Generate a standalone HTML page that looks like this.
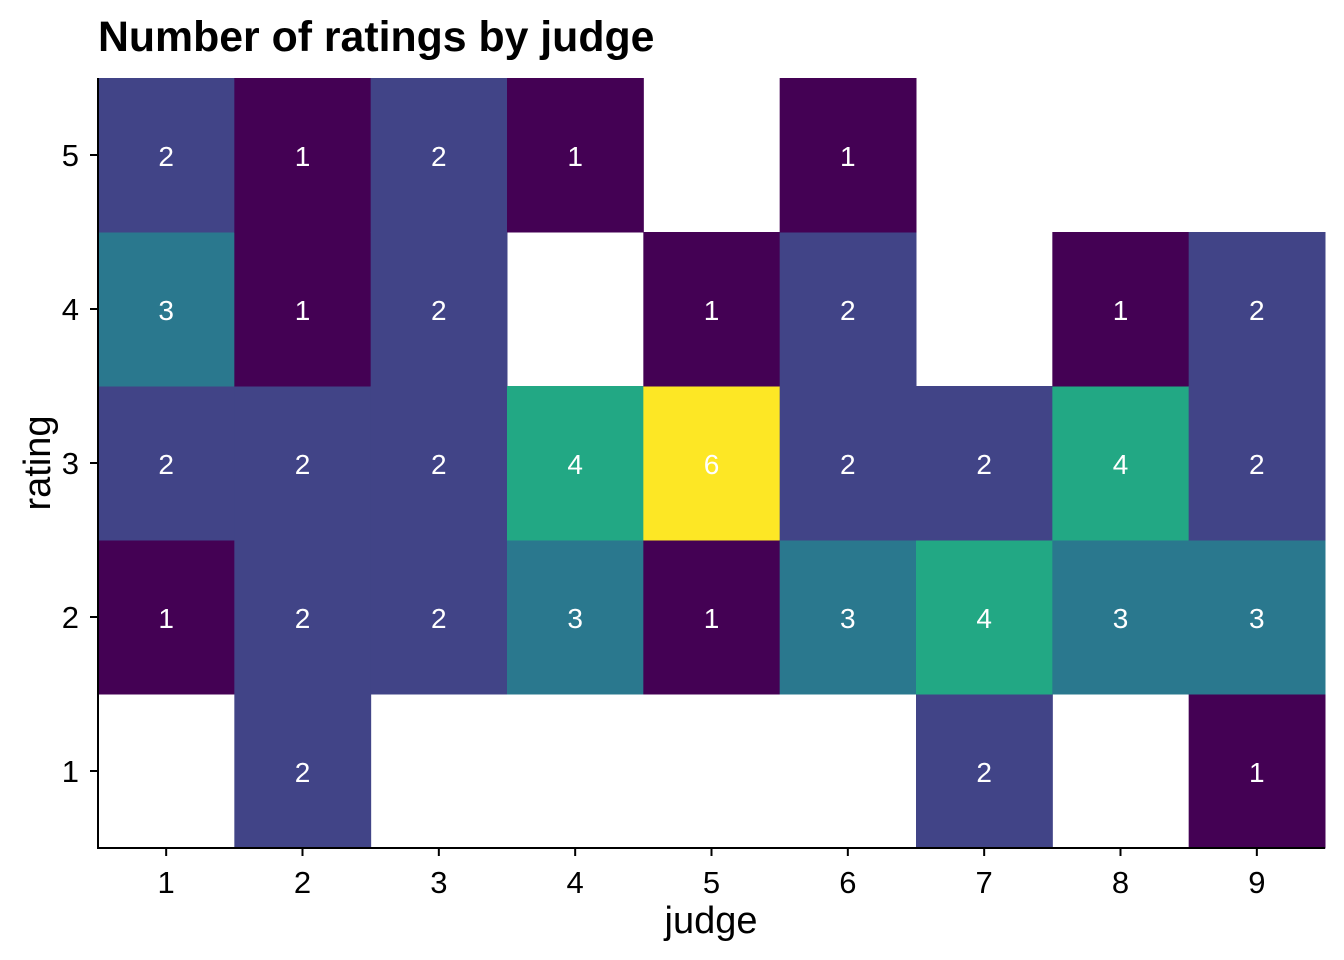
<!DOCTYPE html>
<html><head><meta charset="utf-8"><style>
body{margin:0;background:#fff;}
svg{display:block;font-family:"Liberation Sans",Arial,sans-serif;}
</style></head><body>
<svg id="chart" width="1344" height="960" viewBox="0 0 1344 960">
<text x="98" y="51" font-size="42.8" font-weight="bold" fill="#000">Number of ratings by judge</text>
<g id="cells"></g>
<g id="axes"></g>
<text x="711" y="933" font-size="38" text-anchor="middle" fill="#000">judge</text>
<text transform="translate(50,463) rotate(-90)" font-size="38" text-anchor="middle" fill="#000">rating</text>
</svg>
<script>
const judges=[1,2,3,4,5,6,7,8,9];
const ratings=[1,2,3,4,5];
// counts[judgeIndex] = [r1,r2,r3,r4,r5], null = no cell
const counts=[
 [null,1,2,3,2],
 [2,2,2,1,1],
 [null,2,2,2,2],
 [null,3,4,null,1],
 [null,1,6,1,null],
 [null,3,2,2,1],
 [2,4,2,null,null],
 [null,3,4,1,null],
 [1,3,2,2,null]
];
const viridis={1:"#440154",2:"#414487",3:"#2A788E",4:"#22A884",5:"#7AD151",6:"#FDE725"};
const L=98,R=1325,T=78,B=848;
const cw=(R-L)/judges.length, ch=(B-T)/ratings.length;
const xs=j=>L+(j-0.5)*cw;
const ys=r=>B-(r-0.5)*ch;
const NS="http://www.w3.org/2000/svg";
const cells=document.getElementById('cells'), axes=document.getElementById('axes');
judges.forEach((j,ji)=>{ratings.forEach((r,ri)=>{
 const v=counts[ji][ri]; if(v==null) return;
 const rect=document.createElementNS(NS,'rect');
 
 
 rect.setAttribute('x',xs(j)-cw/2);rect.setAttribute('y',ys(r)-ch/2);
 rect.setAttribute('width',cw+0.5);rect.setAttribute('height',ch+0.5);
 rect.setAttribute('fill',viridis[v]);cells.appendChild(rect);
 const t=document.createElementNS(NS,'text');
 
 
 t.setAttribute('x',xs(j));t.setAttribute('y',ys(r)+11);
 t.setAttribute('font-size','28');t.setAttribute('fill','#fff');t.setAttribute('text-anchor','middle');
 t.textContent=v;cells.appendChild(t);
});});
function line(x1,y1,x2,y2,name){const l=document.createElementNS(NS,'line');
 
 
 l.setAttribute('x1',x1);l.setAttribute('y1',y1);l.setAttribute('x2',x2);l.setAttribute('y2',y2);
 l.setAttribute('stroke','#000');l.setAttribute('stroke-width','2');axes.appendChild(l);}
line(L,T,L,B+1,'y-axis-line');line(L-1,B,R,B,'x-axis-line');
judges.forEach(j=>{line(xs(j),B,xs(j),B+8,'x-tick');
 const t=document.createElementNS(NS,'text');
 
 
 t.setAttribute('x',xs(j));t.setAttribute('y',B+45);t.setAttribute('font-size','31');t.setAttribute('text-anchor','middle');t.textContent=j;axes.appendChild(t);});
ratings.forEach(r=>{line(L-8,ys(r),L,ys(r),'y-tick');
 const t=document.createElementNS(NS,'text');
 
 
 t.setAttribute('x',L-19);t.setAttribute('y',ys(r)+11);t.setAttribute('font-size','31');t.setAttribute('text-anchor','end');t.textContent=r;axes.appendChild(t);});
</script>
</body></html>
